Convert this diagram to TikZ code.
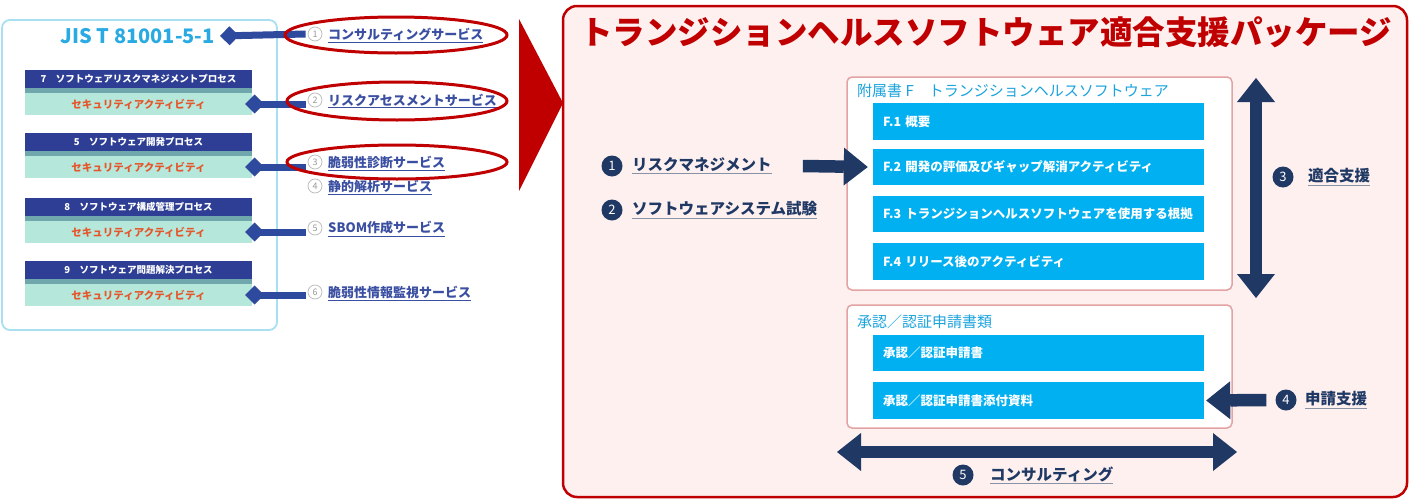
\documentclass[tikz,border=0pt]{standalone}
\usepackage{fontspec}
\setmainfont{Noto Sans CJK JP}
\usetikzlibrary{arrows.meta,shapes.geometric}
\definecolor{navy}{HTML}{1F3864}
\definecolor{lblue}{HTML}{2E4A9E}
\definecolor{hdr}{HTML}{2D3E94}
\definecolor{stripc}{HTML}{6FA7AC}
\definecolor{mint}{HTML}{B5E8DB}
\definecolor{orng}{HTML}{E5562C}
\definecolor{svc}{HTML}{3B4FA2}
\definecolor{dred}{HTML}{C00000}
\definecolor{pinkbg}{HTML}{FDF0EF}
\definecolor{pinkln}{HTML}{E4A3A3}
\definecolor{cyanb}{HTML}{00B0F0}
\definecolor{cyant}{HTML}{1BA3DD}
\definecolor{jisc}{HTML}{2AAAE2}
\definecolor{panelc}{HTML}{A9E0F1}
\definecolor{ulgray}{HTML}{8A93A6}
\newcommand\myfs[1]{\fontsize{#1}{#1}\selectfont}
\newcommand\navyul[1]{{\color{ulgray}\underline{\textcolor{navy}{#1}}}}
\tikzset{
 hdrbar/.style={fill=hdr, text=white, font=\bfseries\myfs{9.5}, minimum width=227pt, minimum height=18pt, inner sep=0pt},
 stripbar/.style={fill=stripc, minimum width=227pt, minimum height=5pt, inner sep=0pt},
 mintbar/.style={fill=mint, text=orng, font=\bfseries\myfs{10.5}, minimum width=227pt, minimum height=22pt, inner sep=0pt},
 svcnum/.style={circle, draw=gray!55, fill=white, line width=0.7pt, text=gray!80, font=\myfs{9}, minimum size=14pt, inner sep=0pt},
 svctext/.style={anchor=west, text=svc, font=\bfseries\myfs{13}, inner sep=1pt},
 larrow/.style={draw=lblue, line width=7pt, -{Diamond[length=19pt,width=19pt,line width=0pt]}},
 ring/.style={draw=dred, line width=3pt},
 bigarr/.style={draw=navy, line width=12.5pt, -{Triangle[length=24pt,width=38pt,line width=0pt]}},
 bigdbl/.style={draw=navy, line width=12.5pt, {Triangle[length=24pt,width=38pt,line width=0pt]}-{Triangle[length=24pt,width=38pt,line width=0pt]}},
 numc/.style={circle, fill=navy, text=white, font=\myfs{13}, minimum size=21pt, inner sep=0pt},
 rtext/.style={anchor=west, font=\bfseries\myfs{15.5}, inner sep=2pt},
 fbar/.style={fill=cyanb, text=white, font=\bfseries\myfs{12.5}, minimum height=36.5pt, text width=311pt, inner xsep=10pt, inner ysep=0pt, align=left},
 whitebox/.style={fill=white, draw=pinkln, line width=1.5pt, rounded corners=5pt, inner sep=0pt},
 boxtitle/.style={anchor=west, text=cyant, font=\myfs{15}, inner sep=1pt},
}
\begin{document}
\begin{tikzpicture}[x=1pt,y=-1pt]
\useasboundingbox (0,0) rectangle (1417,501);
\fill[white] (0,0) rectangle (1417,501);

% ---------- left panel ----------
\node[draw=panelc, line width=1.8pt, rounded corners=8pt, fill=white, minimum width=275pt, minimum height=310pt, inner sep=0pt] (lpanel) at (139.5,175) {};
\node[anchor=east, text=jisc, font=\bfseries\myfs{20}, inner sep=5pt] (jis) at (220,36) {JIS T 81001-5-1};

\node[hdrbar] (h1) at (138.5,79) {7　ソフトウェアリスクマネジメントプロセス};
\node[stripbar] (k1) at (138.5,90.5) {};
\node[mintbar] (m1) at (138.5,104) {セキュリティアクティビティ};

\node[hdrbar] (h2) at (138.5,142) {5　ソフトウェア開発プロセス};
\node[stripbar] (k2) at (138.5,153.5) {};
\node[mintbar] (m2) at (138.5,167) {セキュリティアクティビティ};

\node[hdrbar] (h3) at (138.5,207) {8　ソフトウェア構成管理プロセス};
\node[stripbar] (k3) at (138.5,218.5) {};
\node[mintbar] (m3) at (138.5,232) {セキュリティアクティビティ};

\node[hdrbar] (h4) at (138.5,270) {9　ソフトウェア問題解決プロセス};
\node[stripbar] (k4) at (138.5,281.5) {};
\node[mintbar] (m4) at (138.5,295) {セキュリティアクティビティ};

% services
\node[svcnum] (c1) at (315,34) {1};
\node[svctext] (t1) at (327,35) {\underline{コンサルティングサービス}};
\node[svcnum] (c2) at (315,100) {2};
\node[svctext] (t2) at (327,101) {\underline{リスクアセスメントサービス}};
\node[svcnum] (c3) at (315,162) {3};
\node[svctext] (t3) at (327,163) {\underline{脆弱性診断サービス}};
\node[svcnum] (c4) at (315,186) {4};
\node[svctext] (t4) at (327,187) {\underline{静的解析サービス}};
\node[svcnum] (c5) at (315,228) {5};
\node[svctext] (t5) at (327,229) {\underline{SBOM作成サービス}};
\node[svcnum] (c6) at (315,292) {6};
\node[svctext] (t6) at (327,293) {\underline{脆弱性情報監視サービス}};

\draw[larrow] ([xshift=-2pt]c1.west) -- (jis.east);
\draw[larrow] ([xshift=-2pt]m1.east -| c2.west) -- ([xshift=-7pt]m1.east);
\draw[larrow] ([xshift=-2pt]m2.east -| c3.west) -- ([xshift=-7pt]m2.east);
\draw[larrow] ([xshift=-2pt]m3.east -| c5.west) -- ([xshift=-7pt]m3.east);
\draw[larrow] ([xshift=-2pt]m4.east -| c6.west) -- ([xshift=-7pt]m4.east);

\draw[ring] (396,35) ellipse [x radius=111pt, y radius=18pt];
\draw[ring] (397,101) ellipse [x radius=110pt, y radius=19pt];
\draw[ring] (397,162) ellipse [x radius=110pt, y radius=17pt];

% big red triangle
\fill[dred] (519,19) -- (519,191) -- (563,103) -- cycle;

% ---------- right panel ----------
\node[draw=dred, line width=2.5pt, rounded corners=14pt, fill=pinkbg, minimum width=844pt, minimum height=491pt, inner sep=0pt] (rpanel) at (985,251.5) {};
\node[text=dred, font=\bfseries\myfs{32.5}, inner sep=0pt] (title) at (986,32) {トランジションヘルスソフトウェア適合支援パッケージ};

% annex F box
\node[whitebox, minimum width=385pt, minimum height=213pt] (annex) at (1039.5,183.5) {};
\node[boxtitle] (annext) at (856,91) {附属書 F　トランジションヘルスソフトウェア};
\node[fbar] (f1) at (1038.5,121.5) {F.1 概要};
\node[fbar] (f2) at (1038.5,167) {F.2 開発の評価及びギャップ解消アクティビティ};
\node[fbar] (f3) at (1038.5,214) {F.3 トランジションヘルスソフトウェアを使用する根拠};
\node[fbar] (f4) at (1038.5,261.5) {F.4 リリース後のアクティビティ};

% application docs box
\node[whitebox, minimum width=385pt, minimum height=123pt] (appbox) at (1039.5,366.5) {};
\node[boxtitle] (appt) at (856,322) {承認／認証申請書類};
\node[fbar] (b1) at (1038.5,353) {承認／認証申請書};
\node[fbar] (b2) at (1038.5,400.5) {承認／認証申請書添付資料};

% left items
\node[numc] (n1) at (612,166) {1};
\node[rtext] (r1) at (630,166) {\navyul{リスクマネジメント}};
\node[numc] (n2) at (612,210) {2};
\node[rtext] (r2) at (630,210) {\navyul{ソフトウェアシステム試験}};

\draw[bigarr] ([xshift=29pt]r1.east) -- ([xshift=-5pt]f2.west);

% 3
\coordinate (vt) at (1256,78);
\coordinate (vb) at (1256,298);
\draw[bigdbl] (vt) -- (vb);
\node[numc] (n3) at (1283,177) {3};
\node[rtext] (r3) at (1306,177) {\navyul{適合支援}};

% 4
\node[numc] (n4) at (1286,400) {4};
\node[rtext] (r4) at (1303,400) {\navyul{申請支援}};
\draw[bigarr] ([xshift=-9pt]n4.west) -- ([xshift=2pt]b2.east);

% 5
\coordinate (hl) at (837,452);
\coordinate (hr) at (1237,452);
\draw[bigdbl] (hl) -- (hr);
\node[numc] (n5) at (963,475) {5};
\node[rtext] (r5) at (988,475) {\navyul{コンサルティング}};
\end{tikzpicture}
\end{document}
